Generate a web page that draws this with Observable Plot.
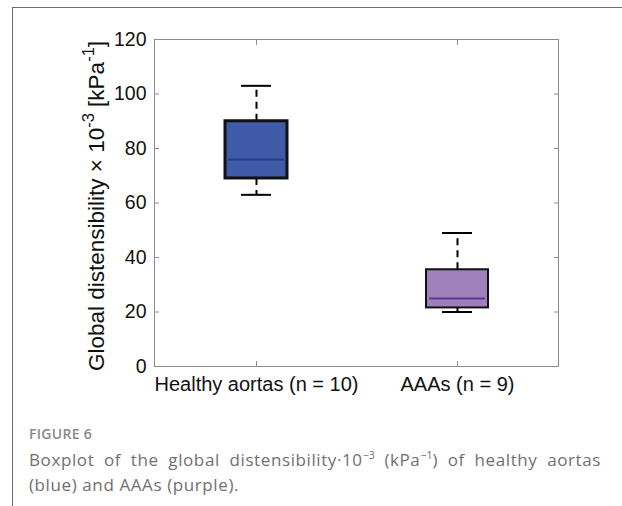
<!DOCTYPE html>
<html>
<head>
<meta charset="utf-8">
<script src="https://cdn.jsdelivr.net/npm/d3@7"></script>
<script src="https://cdn.jsdelivr.net/npm/@observablehq/plot@0.6"></script>
<style>
  html, body { margin: 0; padding: 0; background: #fff; }
  #wrap { position: relative; width: 622px; height: 506px; overflow: hidden; background: #fff; }
  #border { position: absolute; left: 12px; top: 7px; right: 0; bottom: -2px;
            border-top: 1.5px solid #6e6e6e; border-left: 1.5px solid #6e6e6e; }
  #chart { position: absolute; left: 0; top: 0; }
  #figlabel { position: absolute; left: 29px; top: 424px; font-family: "Open Sans", sans-serif;
              font-size: 14px; font-weight: 600; color: #8a8a8a; letter-spacing: 0.3px; }
  .cap { position: absolute; left: 29px; width: 572px; font-family: "Open Sans", sans-serif;
         font-size: 17px; letter-spacing: 0.6px; line-height: 25px; color: #707070; white-space: nowrap; }
  #cap1 { top: 447px; text-align: justify; text-align-last: justify; white-space: normal; }
  #cap2 { top: 472px; text-align: left; }
  .cap sup { font-size: 10.5px; letter-spacing: 0; line-height: 0; vertical-align: 7px; }
</style>
</head>
<body>
<div id="wrap">
  <div id="border"></div>
  <div id="chart"></div>
  <div id="figlabel">FIGURE 6</div>
  <div class="cap" id="cap1">Boxplot of the global distensibility·10<sup>−3</sup> (kPa<sup>−1</sup>) of healthy aortas</div>
  <div class="cap" id="cap2">(blue) and AAAs (purple).</div>
</div>
<script>
// ---- data ----
const groups = ["Healthy aortas (n = 10)", "AAAs (n = 9)"];
const whiskerLow = [63, 20];
const q1 = [69, 21.5];
const median = [76, 25];
const q3 = [90, 35.5];
const whiskerHigh = [103, 49];
const yTicks = [0, 20, 40, 60, 80, 100, 120];

// ---- styles ----
const boxFills = ["#3e5aa8", "#a080ba"];
const medianColors = ["#2c3b8c", "#5a37a2"];
const boxStrokeWidths = [3, 2];

const rows = groups.map((g, i) => ({
  group: g, lo: whiskerLow[i], q1: q1[i], med: median[i], q3: q3[i], hi: whiskerHigh[i],
  fill: boxFills[i], medColor: medianColors[i], bw: boxStrokeWidths[i]
}));

const frameColor = "#8c8c8c";

const plot = Plot.plot({
  width: 622,
  height: 400,
  marginLeft: 154,
  marginRight: 64,
  marginTop: 39,
  marginBottom: 34,
  style: { background: "transparent", fontFamily: "'Liberation Sans', Arial, sans-serif", color: "#111" },
  x: { domain: groups, type: "band", paddingInner: 0.693, paddingOuter: 0.347, label: null },
  y: { domain: [0, 120], label: null },
  marks: [
    Plot.frame({ stroke: frameColor, strokeWidth: 1 }),
    // inner ticks
    Plot.axisY({ anchor: "left", ticks: yTicks, tickSize: -5, text: null, stroke: frameColor, label: null }),
    Plot.axisY({ anchor: "right", ticks: yTicks, tickSize: -5, text: null, stroke: frameColor, label: null }),
    Plot.axisX({ anchor: "bottom", tickSize: -5, text: null, stroke: frameColor, label: null }),
    Plot.axisX({ anchor: "top", tickSize: -5, text: null, stroke: frameColor, label: null }),
    // tick labels
    Plot.axisY({ anchor: "left", ticks: yTicks, tickSize: 0, tickPadding: 8, fontSize: 19.5, fill: "#111", label: null }),
    Plot.axisX({ anchor: "bottom", tickSize: 0, tickPadding: 10, fontSize: 20, fill: "#111", label: null }),
    // whiskers
    Plot.ruleX(rows, { x: "group", y1: "q3", y2: "hi", stroke: "#000", strokeWidth: 2, strokeDasharray: "7,5" }),
    Plot.ruleX(rows, { x: "group", y1: "q1", y2: "lo", stroke: "#000", strokeWidth: 2, strokeDasharray: "7,5" }),
    // caps
    Plot.tickY(rows, { x: "group", y: "hi", stroke: "#000", strokeWidth: 2, insetLeft: 16, insetRight: 16 }),
    Plot.tickY(rows, { x: "group", y: "lo", stroke: "#000", strokeWidth: 2, insetLeft: 16, insetRight: 16 }),
    // boxes
    Plot.barY(rows, { x: "group", y1: "q1", y2: "q3", fill: d => d.fill, stroke: "#111", strokeWidth: d => d.bw }),
    // medians
    Plot.tickY(rows, { x: "group", y: "med", stroke: d => d.medColor, strokeWidth: 2, insetLeft: 3, insetRight: 3 })
  ]
});

document.getElementById("chart").appendChild(plot);

// y-axis title with superscripts
const svg = d3.select(plot);
const t = svg.append("text")
  .attr("transform", "translate(104,206) rotate(-90)")
  .attr("text-anchor", "middle")
  .attr("font-family", "'Liberation Sans', Arial, sans-serif")
  .attr("font-size", 22.5)
  .attr("fill", "#111");
t.append("tspan").text("Global distensibility \u00d7 10");
t.append("tspan").attr("dy", -10).attr("font-size", 16.5).text("-3");
t.append("tspan").attr("dy", 10).text(" [kPa");
t.append("tspan").attr("dy", -10).attr("font-size", 16.5).text("-1");
t.append("tspan").attr("dy", 10).text("]");
</script>
</body>
</html>
